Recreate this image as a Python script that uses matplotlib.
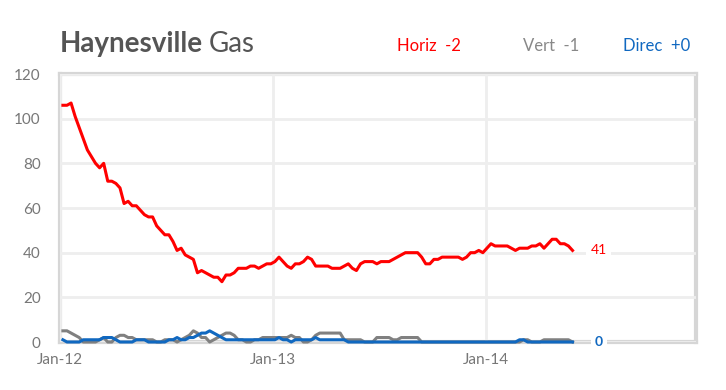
import pandas as pd
import matplotlib.pyplot as plt
import matplotlib.dates as mdates

plt.rcParams['font.family'] = ['Lato', 'DejaVu Sans']

# weekly rig counts, first week of Jan 2012 onwards
horiz = [106, 106, 107, 101, 96, 91, 86, 83, 80, 78, 80, 72, 72, 71, 69, 62, 63, 61, 61, 59,
         57, 56, 56, 52, 50, 48, 48, 45, 41, 42, 39, 38, 37, 31, 32, 31, 30, 29, 29, 27,
         30, 30, 31, 33, 33, 33, 34, 34, 33, 34, 35, 35, 36, 38, 36, 34, 33, 35, 35, 36,
         38, 37, 34, 34, 34, 34, 33, 33, 33, 34, 35, 33, 32, 35, 36, 36, 36, 35, 36, 36,
         36, 37, 38, 39, 40, 40, 40, 40, 38, 35, 35, 37, 37, 38, 38, 38, 38, 38, 37, 38,
         40, 40, 41, 40, 42, 44, 43, 43, 43, 43, 42, 41, 42, 42, 42, 43, 43, 44, 42, 44,
         46, 46, 44, 44, 43, 41]
vert = [5, 5, 4, 3, 2, 0, 0, 0, 0, 1, 2, 0, 0, 2, 3, 3, 2, 2, 1, 1,
        1, 1, 1, 0, 0, 1, 1, 1, 0, 1, 2, 3, 5, 4, 2, 2, 0, 1, 2, 3,
        4, 4, 3, 1, 1, 0, 0, 1, 1, 2, 2, 2, 2, 2, 2, 2, 3, 2, 2, 0,
        0, 1, 3, 4, 4, 4, 4, 4, 4, 1, 1, 1, 1, 1, 0, 0, 0, 2, 2, 2,
        2, 1, 1, 2, 2, 2, 2, 2, 0, 0, 0, 0, 0, 0, 0, 0, 0, 0, 0, 0,
        0, 0, 0, 0, 0, 0, 0, 0, 0, 0, 0, 0, 0, 1, 1, 0, 0, 0, 1, 1,
        1, 1, 1, 1, 1, 0]
direc = [1, 0, 0, 0, 0, 1, 1, 1, 1, 1, 2, 2, 2, 1, 0, 0, 0, 0, 1, 1,
         1, 0, 0, 0, 0, 0, 1, 1, 2, 1, 1, 2, 2, 3, 4, 4, 5, 4, 3, 2,
         1, 1, 1, 1, 1, 1, 1, 1, 1, 1, 1, 1, 1, 2, 1, 1, 0, 1, 1, 1,
         1, 1, 2, 1, 1, 1, 1, 1, 1, 1, 0, 0, 0, 0, 0, 0, 0, 0, 0, 0,
         0, 0, 0, 0, 0, 0, 0, 0, 0, 0, 0, 0, 0, 0, 0, 0, 0, 0, 0, 0,
         0, 0, 0, 0, 0, 0, 0, 0, 0, 0, 0, 0, 1, 1, 0, 0, 0, 0, 0, 0,
         0, 0, 0, 0, 0, 0]
dates = pd.date_range('2012-01-06', periods=len(horiz), freq='7D')

red = '#ff0000'
gray = '#808080'
blue = '#1068c0'
frame = '#d6d6d6'

fig = plt.figure(figsize=(7.26, 3.9), dpi=100)
ax = fig.add_axes([60 / 726, 48 / 390, 636 / 726, 268 / 390])

ax.plot(dates, vert, color=gray, lw=2.2, zorder=3, clip_on=False)
ax.plot(dates, direc, color=blue, lw=2.2, zorder=4, clip_on=False)
ax.plot(dates, horiz, color=red, lw=2.2, zorder=5)

ax.set_xlim(pd.Timestamp('2012-01-01'), pd.Timestamp('2014-12-28'))
ax.set_ylim(0, 120)
ax.set_yticks(range(0, 121, 20))
ax.xaxis.set_major_locator(mdates.YearLocator())
ax.xaxis.set_major_formatter(mdates.DateFormatter('Jan-%y'))

ax.grid(True, color='#eeeeee', lw=2, zorder=0)
for s in ax.spines.values():
    s.set_color(frame)
    s.set_linewidth(3)
    s.set_zorder(1)
ax.tick_params(length=0, colors='#777777', labelsize=11)
ax.tick_params(axis='y', pad=14)
ax.tick_params(axis='x', pad=8)

# end labels
lab_x = dates[-1] + pd.Timedelta(days=45)
ax.text(lab_x, horiz[-1], str(horiz[-1]), color=red,
        fontsize=10, va='center', ha='center', zorder=6,
        bbox=dict(facecolor='white', edgecolor='none', pad=3))
ax.text(lab_x, direc[-1], str(direc[-1]), color=blue,
        fontsize=10, fontweight='bold', va='center', ha='center', zorder=6,
        bbox=dict(facecolor='white', edgecolor='none', pad=3), clip_on=False)

# title and legend
t = fig.text(60 / 726, 1 - 52 / 390, 'Haynesville', fontsize=20, fontweight='bold',
             color='#555555', va='baseline')
fig.canvas.draw()
bb = t.get_window_extent()
fig.text(bb.x1 / 726 + 0.008, 1 - 52 / 390, 'Gas', fontsize=20, color='#555555', va='baseline')

fig.text(397 / 726, 1 - 51 / 390, 'Horiz  -2', fontsize=12, color=red, va='baseline')
fig.text(523 / 726, 1 - 51 / 390, 'Vert  -1', fontsize=12, color='#888888', va='baseline')
fig.text(623 / 726, 1 - 51 / 390, 'Direc  +0', fontsize=12, color=blue, va='baseline')

fig.savefig('out.png', dpi=100)
